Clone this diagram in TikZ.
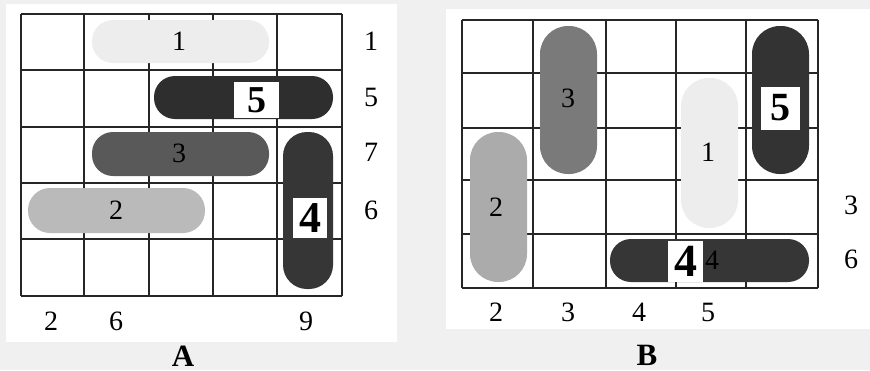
\documentclass[tikz,border=0pt]{standalone}
\usepackage{fontspec}
\setmainfont{Liberation Serif}
\begin{document}
\begin{tikzpicture}[x=1pt,y=-1pt,
  gridline/.style={draw=black!85,line width=1.3pt},
  lbl/.style={font=\fontsize{28}{28}\selectfont,inner sep=0pt},
  bigA/.style={font=\fontsize{38}{38}\selectfont\bfseries,inner sep=0pt},
  captxt/.style={font=\fontsize{31}{31}\selectfont\bfseries,inner sep=0pt}]
\useasboundingbox (0,0) rectangle (870,370);
\fill[black!6] (0,0) rectangle (870,370);
% ---------- panel A ----------
\fill[white] (6,4) rectangle (397,342);
\foreach \x in {21,84,149,213,277,342} \draw[gridline] (\x,14) -- (\x,296);
\foreach \y in {14,70,127,183,239,296} \draw[gridline] (21,\y) -- (342,\y);
\fill[black!7,rounded corners=21pt] (92,20) rectangle (269,63);
\fill[black!82,rounded corners=21pt] (154,76) rectangle (333,119);
\fill[black!65,rounded corners=21pt] (92,132) rectangle (269,176);
\fill[black!27,rounded corners=22pt] (28,188) rectangle (205,233);
\fill[black!79,rounded corners=24pt] (283,132) rectangle (333,289);
\node[lbl] (a1) at (179,41) {1};
\node[lbl] (a3) at (179,153) {3};
\node[lbl] (a2) at (116,210) {2};
\fill[white] (234,82) rectangle (279,118);
\node[bigA] (a5) at (256.5,100) {5};
\fill[white] (293,198) rectangle (327,238);
\node[bigA,font=\fontsize{44}{44}\selectfont\bfseries] (a4) at (310,218) {4};
\node[lbl] (ar1) at (371,41) {1};
\node[lbl] (ar5) at (371,97) {5};
\node[lbl] (ar7) at (371,152) {7};
\node[lbl] (ar6) at (371,210) {6};
\node[lbl] (ab2) at (51,321) {2};
\node[lbl] (ab6) at (116,321) {6};
\node[lbl] (ab9) at (306,321) {9};
\node[captxt] (capA) at (183,356) {A};
% ---------- panel B ----------
\fill[white] (446,9) rectangle (870,329);
\foreach \x in {462,533,606,676,746,818} \draw[gridline] (\x,20) -- (\x,288);
\foreach \y in {20,73,128,180,234,288} \draw[gridline] (462,\y) -- (818,\y);
\fill[black!52,rounded corners=28pt] (540,26) rectangle (597,174);
\fill[black!80,rounded corners=28pt] (752,26) rectangle (809,174);
\fill[black!7,rounded corners=28pt] (681,78) rectangle (738,228);
\fill[black!33,rounded corners=28pt] (470,132) rectangle (527,282);
\fill[black!79,rounded corners=21pt] (610,239) rectangle (809,282);
\node[lbl] (b3) at (568,98) {3};
\node[lbl] (b1) at (708,152) {1};
\node[lbl] (b2) at (496,207) {2};
\node[lbl] (b4s) at (712,260) {4};
\fill[white] (761,87) rectangle (800,130);
\node[bigA,font=\fontsize{40}{40}\selectfont\bfseries] (b5) at (780.5,108) {5};
\fill[white] (668,241) rectangle (703,282);
\node[bigA,font=\fontsize{46}{46}\selectfont\bfseries] (b4) at (685.5,261) {4};
\node[lbl] (br3) at (851,205) {3};
\node[lbl] (br6) at (851,259) {6};
\node[lbl] (bb2) at (496,312) {2};
\node[lbl] (bb3) at (568,312) {3};
\node[lbl] (bb4) at (639,312) {4};
\node[lbl] (bb5) at (708,312) {5};
\node[captxt] (capB) at (647,355) {B};
\end{tikzpicture}
\end{document}
